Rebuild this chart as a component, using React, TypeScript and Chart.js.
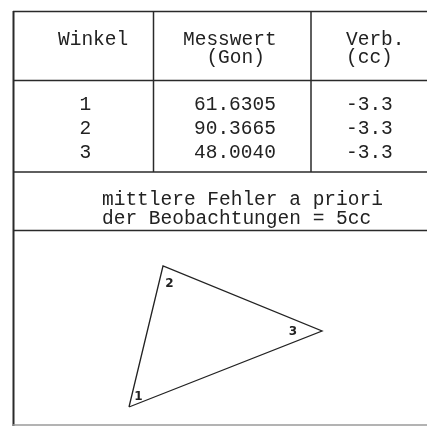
import React, { useEffect, useRef } from "react";
import { Chart, registerables } from "chart.js";

Chart.register(...registerables);

// ---- data ----
const headerCol1 = ["Winkel"];
const headerCol2 = ["Messwert", "  (Gon)"];
const headerCol3 = ["Verb.", "(cc)"];
const angleIds = ["1", "2", "3"];
const measuredGon = ["61.6305", "90.3665", "48.0040"];
const corrections = ["-3.3", "-3.3", "-3.3"];
const footerLines = ["mittlere Fehler a priori", "der Beobachtungen = 5cc"];
const vertexLabels = ["1", "2", "3"];
const vertexX = [0, 34, 193];
const vertexY = [0, 141, 76];

const MONO = '"Courier New", Courier, "Nimbus Mono PS", FreeMono, "Liberation Mono", "DejaVu Sans Mono", monospace';

const tablePlugin = {
  id: "tablePlugin",
  afterDraw(chart: any) {
    const ctx = chart.ctx as CanvasRenderingContext2D;
    ctx.save();
    ctx.lineCap = "butt";
    const line = (x1: number, y1: number, x2: number, y2: number, w: number, c?: string) => {
      ctx.beginPath();
      ctx.lineWidth = w;
      ctx.strokeStyle = c || "#2a2a2a";
      ctx.moveTo(x1, y1);
      ctx.lineTo(x2, y2);
      ctx.stroke();
    };
    line(13, 11.5, 427, 11.5, 1.5);
    line(13.5, 11, 13.5, 426, 2);
    line(153.5, 11, 153.5, 172, 1.5);
    line(311, 11, 311, 172, 1.5);
    line(13, 80.5, 427, 80.5, 1.5);
    line(13, 172, 427, 172, 1.5);
    line(13, 230.5, 427, 230.5, 1.5);
    line(13, 425, 427, 425, 1.5, "#9a9a9a");

    // text
    ctx.fillStyle = "#222";
    ctx.font = `19.5px ${MONO}`;
    ctx.textBaseline = "alphabetic";
    ctx.textAlign = "left";
    const headBase = [45, 63];
    headerCol1.forEach((t, i) => ctx.fillText(t, 58, headBase[i]));
    headerCol2.forEach((t, i) => ctx.fillText(t, 183, headBase[i]));
    headerCol3.forEach((t, i) => ctx.fillText(t, 346, headBase[i]));
    const rowBase = [110, 134, 158];
    angleIds.forEach((t, i) => ctx.fillText(t, 79.5, rowBase[i]));
    measuredGon.forEach((t, i) => ctx.fillText(t, 194, rowBase[i]));
    corrections.forEach((t, i) => ctx.fillText(t, 346, rowBase[i]));
    const footBase = [205, 224];
    footerLines.forEach((t, i) => ctx.fillText(t, 102, footBase[i]));

    // vertex labels
    const xs = chart.scales.x;
    const ys = chart.scales.y;
    const offs = [
      [9.5, -10],
      [6.5, 17.5],
      [-29, 1],
    ];
    ctx.font = `bold 12px "DejaVu Sans", sans-serif`;
    ctx.textAlign = "center";
    ctx.textBaseline = "middle";
    vertexLabels.forEach((t, i) => {
      const px = xs.getPixelForValue(vertexX[i]) + offs[i][0];
      const py = ys.getPixelForValue(vertexY[i]) + offs[i][1];
      ctx.fillText(t, px, py);
    });
    ctx.restore();
  },
};

export default function App() {
  const ref = useRef<HTMLCanvasElement | null>(null);
  useEffect(() => {
    document.body.style.margin = "0";
    const pts = vertexX.map((x, i) => ({ x, y: vertexY[i] }));
    pts.push({ x: vertexX[0], y: vertexY[0] });
    const chart = new Chart(ref.current as HTMLCanvasElement, {
      type: "scatter",
      data: {
        datasets: [
          {
            data: pts,
            showLine: true,
            borderColor: "#222",
            borderWidth: 1.3,
            pointRadius: 0,
            tension: 0,
            fill: false,
          } as any,
        ],
      },
      options: {
        animation: false,
        responsive: false,
        layout: { padding: { left: 14, top: 231, right: 0, bottom: 0 } },
        plugins: { legend: { display: false }, tooltip: { enabled: false } },
        scales: {
          x: { type: "linear", min: -115, max: 298, display: false },
          y: { type: "linear", min: -19, max: 176, display: false },
        },
      },
      plugins: [tablePlugin],
    });
    return () => chart.destroy();
  }, []);
  return (
    <div style={{ position: "fixed", left: 0, top: 0, width: 427, height: 426, background: "#fff" }}>
      <canvas ref={ref} width={427} height={426} style={{ display: "block" }} />
    </div>
  );
}
